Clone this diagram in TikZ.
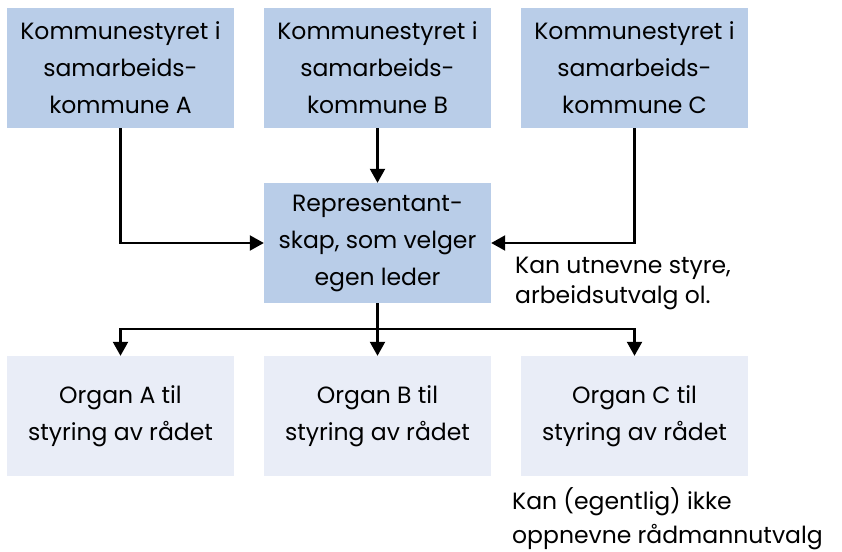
\documentclass[tikz,border=0pt]{standalone}
\usepackage{fontspec}
\setmainfont{Poppins}
\usetikzlibrary{arrows.meta}
\definecolor{topblue}{HTML}{B9CDE8}
\definecolor{lowblue}{HTML}{E9EDF7}
\begin{document}
\begin{tikzpicture}[x=1pt,y=-1pt,
  box/.style={minimum width=227pt,minimum height=120pt,inner sep=0pt,align=center,font=\fontsize{23.5}{37}\selectfont},
  topbox/.style={box,fill=topblue},
  lowbox/.style={box,fill=lowblue},
  conn/.style={line width=2.2pt,-{Triangle[length=14pt,width=15pt]}},
  note/.style={align=left,anchor=west,font=\fontsize{23.5}{30}\selectfont,inner sep=0pt}]
\useasboundingbox (0,0) rectangle (842,551);
\node[topbox] (ka) at (120.5,68) {Kommunestyret i\\samarbeids-\\kommune A};
\node[topbox] (kb) at (377.5,68) {Kommunestyret i\\samarbeids-\\kommune B};
\node[topbox] (kc) at (634.5,68) {Kommunestyret i\\samarbeids-\\kommune C};
\node[topbox] (rep) at (377.5,243) {Representant-\\skap, som velger\\egen leder};
\node[lowbox] (oa) at (120.5,416) {Organ A til\\styring av rådet};
\node[lowbox] (ob) at (377.5,416) {Organ B til\\styring av rådet};
\node[lowbox] (oc) at (634.5,416) {Organ C til\\styring av rådet};
\node[note] (n1) at (515,283) {Kan utnevne styre,\\arbeidsutvalg ol.};
\node[note,font=\fontsize{23.5}{34}\selectfont] (n2) at (512,519) {Kan (egentlig) ikke\\oppnevne rådmannutvalg};
\coordinate (split) at (377.5,329);
\draw[conn] (ka.south) |- (rep.west);
\draw[conn] (kc.south) |- (rep.east);
\draw[conn] (kb) -- (rep);
\draw[line width=2.2pt] (rep.south) -- (split);
\draw[conn] (split) -| (oa.north);
\draw[conn] (split) -- (ob.north);
\draw[conn] (split) -| (oc.north);
\end{tikzpicture}
\end{document}
